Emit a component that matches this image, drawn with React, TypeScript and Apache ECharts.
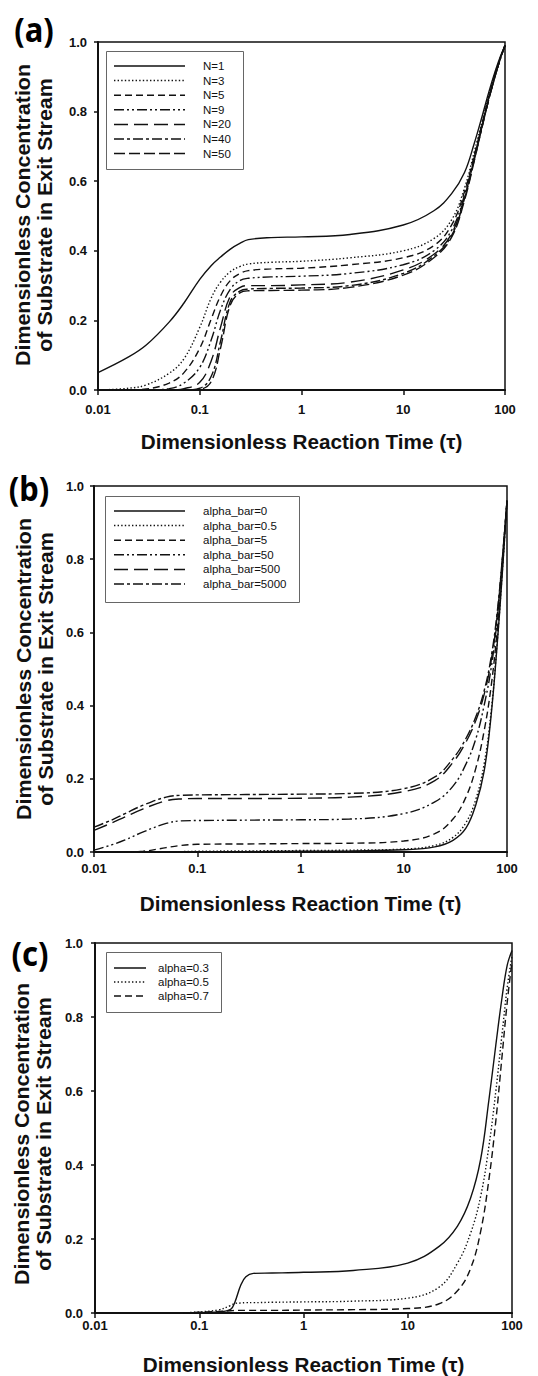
import React, { useEffect, useRef } from "react";
import * as echarts from "echarts";

// ---------- Data ----------
// Panel (a): effect of N
const xA = [0.01, 0.02, 0.03, 0.05, 0.07, 0.1, 0.13, 0.16, 0.2, 0.25, 0.3, 0.5, 1, 3, 10, 20, 30, 40, 50, 60, 70, 80, 90, 100];
const aN1 = [0.05, 0.095, 0.13, 0.195, 0.25, 0.318, 0.358, 0.382, 0.405, 0.422, 0.432, 0.438, 0.44, 0.447, 0.474, 0.515, 0.565, 0.625, 0.71, 0.79, 0.86, 0.915, 0.958, 0.99];
const aN3 = [0.0, 0.005, 0.015, 0.048, 0.09, 0.18, 0.265, 0.31, 0.34, 0.355, 0.362, 0.367, 0.37, 0.38, 0.4, 0.435, 0.49, 0.58, 0.685, 0.775, 0.85, 0.91, 0.955, 0.99];
const aN5 = [0.0, 0.0, 0.003, 0.02, 0.05, 0.12, 0.205, 0.27, 0.315, 0.335, 0.343, 0.348, 0.35, 0.36, 0.38, 0.415, 0.475, 0.57, 0.675, 0.77, 0.845, 0.905, 0.953, 0.99];
const aN9 = [0.0, 0.0, 0.0, 0.004, 0.02, 0.065, 0.145, 0.23, 0.29, 0.315, 0.321, 0.325, 0.327, 0.335, 0.36, 0.4, 0.46, 0.56, 0.67, 0.765, 0.842, 0.903, 0.952, 0.99];
const aN20 = [0, 0, 0, 0, 0.004, 0.022, 0.085, 0.18, 0.27, 0.295, 0.3, 0.3, 0.302, 0.31, 0.345, 0.39, 0.45, 0.555, 0.665, 0.762, 0.84, 0.902, 0.952, 0.99];
const aN40 = [0, 0, 0, 0, 0, 0.005, 0.04, 0.14, 0.255, 0.285, 0.29, 0.292, 0.293, 0.3, 0.335, 0.385, 0.445, 0.55, 0.662, 0.76, 0.84, 0.902, 0.952, 0.99];
const aN50 = [0, 0, 0, 0, 0, 0.002, 0.025, 0.12, 0.245, 0.28, 0.285, 0.286, 0.287, 0.295, 0.33, 0.38, 0.44, 0.545, 0.66, 0.76, 0.84, 0.902, 0.952, 0.99];
const namesA = ["N=1", "N=3", "N=5", "N=9", "N=20", "N=40", "N=50"];

// Panel (b): effect of alpha_bar
const xB = [0.01, 0.015, 0.02, 0.03, 0.05, 0.07, 0.1, 0.3, 1, 3, 10, 20, 30, 40, 50, 60, 70, 80, 90, 100];
const bAb0 = [0, 0, 0, 0, 0, 0, 0, 0.001, 0.002, 0.003, 0.006, 0.014, 0.032, 0.065, 0.13, 0.22, 0.37, 0.56, 0.76, 0.96];
const bAb05 = [0, 0, 0, 0, 0, 0.001, 0.002, 0.003, 0.004, 0.005, 0.008, 0.018, 0.04, 0.08, 0.145, 0.24, 0.38, 0.565, 0.765, 0.96];
const bAb5 = [0, 0, 0, 0.002, 0.012, 0.018, 0.021, 0.022, 0.023, 0.024, 0.03, 0.05, 0.09, 0.15, 0.23, 0.33, 0.45, 0.6, 0.78, 0.96];
const bAb50 = [0.005, 0.02, 0.033, 0.055, 0.078, 0.085, 0.086, 0.087, 0.088, 0.09, 0.105, 0.137, 0.18, 0.24, 0.31, 0.4, 0.5, 0.63, 0.79, 0.96];
const bAb500 = [0.059, 0.08, 0.096, 0.118, 0.14, 0.145, 0.146, 0.146, 0.147, 0.15, 0.165, 0.195, 0.245, 0.3, 0.36, 0.43, 0.52, 0.64, 0.8, 0.96];
const bAb5000 = [0.068, 0.088, 0.105, 0.128, 0.15, 0.155, 0.156, 0.157, 0.158, 0.16, 0.173, 0.205, 0.255, 0.31, 0.37, 0.44, 0.53, 0.65, 0.8, 0.96];
const namesB = ["alpha_bar=0", "alpha_bar=0.5", "alpha_bar=5", "alpha_bar=50", "alpha_bar=500", "alpha_bar=5000"];

// Panel (c): effect of alpha
const xC = [0.07, 0.1, 0.15, 0.2, 0.22, 0.25, 0.28, 0.33, 0.5, 1, 3, 10, 20, 30, 40, 50, 60, 70, 80, 90, 100];
const cA03 = [0, 0.001, 0.003, 0.01, 0.03, 0.075, 0.098, 0.107, 0.108, 0.11, 0.115, 0.135, 0.18, 0.235, 0.31, 0.415, 0.575, 0.725, 0.85, 0.94, 0.98];
const cA05 = [0, 0.003, 0.008, 0.02, 0.026, 0.027, 0.028, 0.028, 0.029, 0.03, 0.032, 0.04, 0.07, 0.135, 0.215, 0.315, 0.45, 0.6, 0.75, 0.88, 0.965];
const cA07 = [0, 0.002, 0.004, 0.006, 0.007, 0.007, 0.007, 0.007, 0.007, 0.008, 0.009, 0.012, 0.025, 0.06, 0.12, 0.22, 0.36, 0.52, 0.69, 0.84, 0.95];
const namesC = ["alpha=0.3", "alpha=0.5", "alpha=0.7"];

const xTickLabels = ["0.01", "0.1", "1", "10", "100"];
const panelLabels = ["(a)", "(b)", "(c)"];
const xTitle = "Dimensionless Reaction Time (\u03c4)";
const yTitle = "Dimensionless Concentration\nof Substrate in Exit Stream";

// ---------- Styles ----------
const SOLID: any = "solid";
const DOT = [1.4, 2.2];
const DASH = [7, 4];
const DASH_DOT_DOT = [10, 3, 2, 3, 2, 3];
const LONG_DASH = [14, 6];
const DASH_DOT = [10, 3, 3, 3];
const LONG_DASH2 = [11, 4];

const stylesA = [SOLID, DOT, DASH, DASH_DOT_DOT, LONG_DASH, DASH_DOT, LONG_DASH2];
const stylesB = [SOLID, DOT, DASH, DASH_DOT_DOT, LONG_DASH, DASH_DOT];
const stylesC = [SOLID, DOT, DASH];

const INK = "#111";
const FONT = "'Liberation Sans'";

const grids = [
  { left: 98, top: 42, width: 407, height: 348 },
  { left: 94, top: 486, width: 413, height: 366 },
  { left: 95, top: 943, width: 417, height: 370 },
];
const xLabelMargin = [13, 10, 6];
const yLabelMargin = [11, 10, 12];
const xNameGap = [41, 41, 41];
const yTitlePos = [[34, 215], [35, 669], [33, 1134]];

const legends = [
  { box: [106, 51, 137, 118], y0: 66, step: 14.6, x1: 114, x2: 185, tx: 203, names: namesA, styles: stylesA },
  { box: [105, 496, 194, 106], y0: 511, step: 14.6, x1: 114, x2: 185, tx: 203, names: namesB, styles: stylesB },
  { box: [106, 952, 115, 60], y0: 968, step: 14, x1: 114, x2: 146, tx: 158, names: namesC, styles: stylesC },
];
const panelLabelPos = [[34, 29], [29, 488], [30, 953]];

function mkSeries(name: string, xs: number[], ys: number[], idx: number, style: any) {
  return {
    type: "line",
    name,
    xAxisIndex: idx,
    yAxisIndex: idx,
    data: xs.map((x, i) => [x, ys[i]]),
    showSymbol: false,
    symbol: "none",
    smooth: 0.4,
    lineStyle: { color: INK, width: 1.4, type: style },
    itemStyle: { color: INK },
    z: 3,
  };
}

export default function App() {
  const ref = useRef<HTMLDivElement>(null);
  useEffect(() => {
    if (!ref.current) return;
    const chart = echarts.init(ref.current, undefined, { renderer: "svg" });

    const seriesA = [aN1, aN3, aN5, aN9, aN20, aN40, aN50].map((ys, i) => mkSeries(namesA[i], xA, ys, 0, stylesA[i]));
    const seriesB = [bAb0, bAb05, bAb5, bAb50, bAb500, bAb5000].map((ys, i) => mkSeries(namesB[i], xB, ys, 1, stylesB[i]));
    const seriesC = [cA03, cA05, cA07].map((ys, i) => mkSeries(namesC[i], xC, ys, 2, stylesC[i]));

    const graphics: any[] = [];
    legends.forEach((lg) => {
      graphics.push({
        type: "rect",
        shape: { x: lg.box[0] + 0.5, y: lg.box[1] + 0.5, width: lg.box[2], height: lg.box[3] },
        style: { fill: "#fff", stroke: "#666", lineWidth: 1 },
        z: 100,
      });
      lg.names.forEach((nm, i) => {
        const y = lg.y0 + i * lg.step;
        const st = lg.styles[i];
        graphics.push({
          type: "line",
          shape: { x1: lg.x1, y1: y, x2: lg.x2, y2: y },
          style: { stroke: INK, lineWidth: 1.5, lineDash: st === SOLID ? null : st },
          z: 101,
        });
        graphics.push({
          type: "text",
          x: lg.tx,
          y,
          style: { text: nm, fill: INK, fontSize: 11.5, fontFamily: FONT, verticalAlign: "middle", align: "left" },
          z: 101,
        });
      });
    });
    panelLabels.forEach((t, i) => {
      graphics.push({
        type: "text",
        x: panelLabelPos[i][0],
        y: panelLabelPos[i][1],
        scaleY: 1.1,
        style: {
          text: t,
          fill: "#000",
          fontSize: 31,
          fontWeight: "bold",
          fontFamily: "'Noto Sans'",
          align: "center",
          verticalAlign: "middle",
        },
        z: 100,
      });
    });
    yTitlePos.forEach((p) => {
      graphics.push({
        type: "text",
        x: p[0],
        y: p[1],
        rotation: Math.PI / 2,
        scaleX: 1.07,
        style: {
          text: yTitle,
          fill: INK,
          fontSize: 20,
          lineHeight: 22,
          fontWeight: "bold",
          fontFamily: FONT,
          align: "center",
          verticalAlign: "middle",
        },
        z: 100,
      });
    });

    const option: any = {
      animation: false,
      backgroundColor: "#fff",
      grid: grids.map((g) => ({ ...g, show: true, borderColor: INK, borderWidth: 1.5, backgroundColor: "transparent" })),
      xAxis: grids.map((_, i) => ({
        type: "log",
        logBase: 10,
        min: 0.01,
        max: 100,
        gridIndex: i,
        name: xTitle,
        nameLocation: "middle",
        nameGap: xNameGap[i],
        nameTextStyle: { fontFamily: FONT, fontWeight: "bold", fontSize: 20.7, color: INK },
        axisLine: { show: true, lineStyle: { color: INK, width: 2 } },
        axisTick: { show: true, inside: false, length: 5, lineStyle: { color: INK, width: 1.5 } },
        minorTick: { show: false },
        splitLine: { show: false },
        axisLabel: {
          margin: xLabelMargin[i],
          fontFamily: FONT,
          fontWeight: "bold",
          fontSize: 13,
          color: INK,
          formatter: (v: number) => xTickLabels[Math.round(Math.log10(v)) + 2] ?? "",
        },
      })),
      yAxis: grids.map((_, i) => ({
        type: "value",
        min: 0,
        max: 1,
        interval: 0.2,
        gridIndex: i,
        axisLine: { show: true, lineStyle: { color: INK, width: 2 } },
        axisTick: { show: true, inside: false, length: 4, lineStyle: { color: INK, width: 1.5 } },
        splitLine: { show: false },
        axisLabel: {
          margin: yLabelMargin[i],
          fontFamily: FONT,
          fontWeight: "bold",
          fontSize: 13,
          color: INK,
          formatter: (v: number) => v.toFixed(1),
        },
      })),
      series: [...seriesA, ...seriesB, ...seriesC],
      graphic: graphics,
    };
    chart.setOption(option);
    return () => chart.dispose();
  }, []);
  return (
    <div
      ref={ref}
      style={{ position: "absolute", left: 0, top: 0, width: 538, height: 1376, background: "#fff" }}
    />
  );
}
